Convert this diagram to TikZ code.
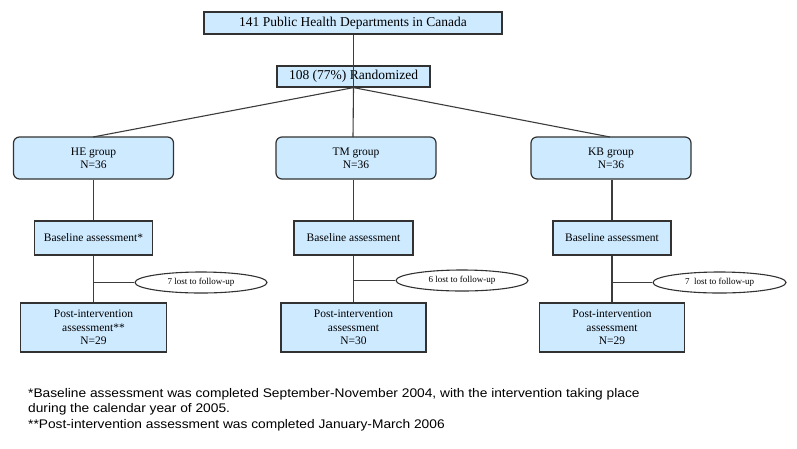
\documentclass[tikz,border=0pt]{standalone}
\usepackage{fontspec}
\setmainfont{Liberation Serif}
\setsansfont{Liberation Sans}
\newfontfamily\fnfont[FakeStretch=1.1]{Liberation Sans}
\usetikzlibrary{shapes.geometric}
\definecolor{boxfill}{RGB}{206,234,255}
\definecolor{edge}{RGB}{50,50,50}
\definecolor{conn}{RGB}{60,60,60}
\tikzset{
  bluebox/.style={draw=edge, fill=boxfill, line width=1.2pt, inner sep=0pt, align=center, font=\fontsize{11.5}{13.5}\selectfont},
  groupbox/.style={bluebox, rounded corners=6pt, minimum width=160pt, minimum height=42pt, font=\fontsize{11.5}{12.8}\selectfont},
  topbox/.style={bluebox, font=\fontsize{13.5}{15}\selectfont},
  basebox/.style={bluebox, minimum width=118pt, minimum height=34pt},
  postbox/.style={bluebox, minimum width=145pt, minimum height=49pt},
  lostell/.style={draw=edge, fill=white, ellipse, line width=1.1pt, inner sep=0pt, minimum width=132pt, minimum height=21pt, font=\fontsize{9}{10}\selectfont},
  conline/.style={draw=conn, line width=1.1pt},
  footnote/.style={anchor=base west, inner sep=0pt, font=\fnfont\fontsize{12.5}{16}\selectfont}
}
\begin{document}
\begin{tikzpicture}[x=1pt,y=-1pt]
\useasboundingbox (0,0) rectangle (797,448);
\fill[white] (0,0) rectangle (797,448);
\node[topbox, minimum width=298pt, minimum height=22pt] (top) at (353,23) {141 Public Health Departments in Canada};
\node[topbox, minimum width=153pt, minimum height=21pt] (rand) at (353.5,76.5) {108 (77\%) Randomized};

\node[groupbox] (he) at (93.5,158) {HE group\\N=36};
\node[groupbox] (tm) at (356,158) {TM group\\N=36};
\node[groupbox] (kb) at (611,158) {KB group\\N=36};

\node[basebox] (heb) at (93.5,238) {Baseline assessment*};
\node[basebox, minimum width=119pt] (tmb) at (353.5,238) {Baseline assessment};
\node[basebox] (kbb) at (612,238) {Baseline assessment};

\node[postbox, minimum width=146pt] (hep) at (93.5,327.5) {Post-intervention\\assessment**\\N=29};
\node[postbox] (tmp) at (353.5,327.5) {Post-intervention\\assessment\\N=30};
\node[postbox] (kbp) at (612,327.5) {Post-intervention\\assessment\\N=29};

\node[lostell] (hel) at (201,282.5) {7 lost to follow-up};
\node[lostell] (tml) at (462,280.5) {6 lost to follow-up};
\node[lostell, minimum width=133pt] (kbl) at (719.5,282.5) {7~~lost to follow-up};

\coordinate (heT) at (93,137);
\coordinate (tmT) at (353,137);
\coordinate (kbT) at (610,137);

\draw[conline] (top.south -| rand.south) -- (rand.south);
\draw[conline] (rand.south) -- (heT);
\draw[conline] (rand.south) -- (tmT);
\draw[conline] (rand.south) -- (kbT);
\draw[conline] (heb.north) -- (heb.north |- he.south);
\draw[conline] (tmb.north) -- (tmb.north |- tm.south);
\draw[conline] (kbb.north) -- (kbb.north |- kb.south);
\draw[conline] (heb.south) -- (hep.north);
\draw[conline] (tmb.south) -- (tmp.north);
\draw[conline] (kbb.south) -- (kbp.north);
\draw[conline] (hel.west) -- (hel.west -| heb.south);
\draw[conline] (tml.west) -- (tml.west -| tmb.south);
\draw[conline] (kbl.west) -- (kbl.west -| kbb.south);

\node[footnote] (fn1) at (28,397) {*Baseline assessment was completed September-November 2004, with the intervention taking place};
\node[footnote] (fn2) at (28,412.5) {during the calendar year of 2005.};
\node[footnote] (fn3) at (28,428) {**Post-intervention assessment was completed January-March 2006};
\end{tikzpicture}
\end{document}
